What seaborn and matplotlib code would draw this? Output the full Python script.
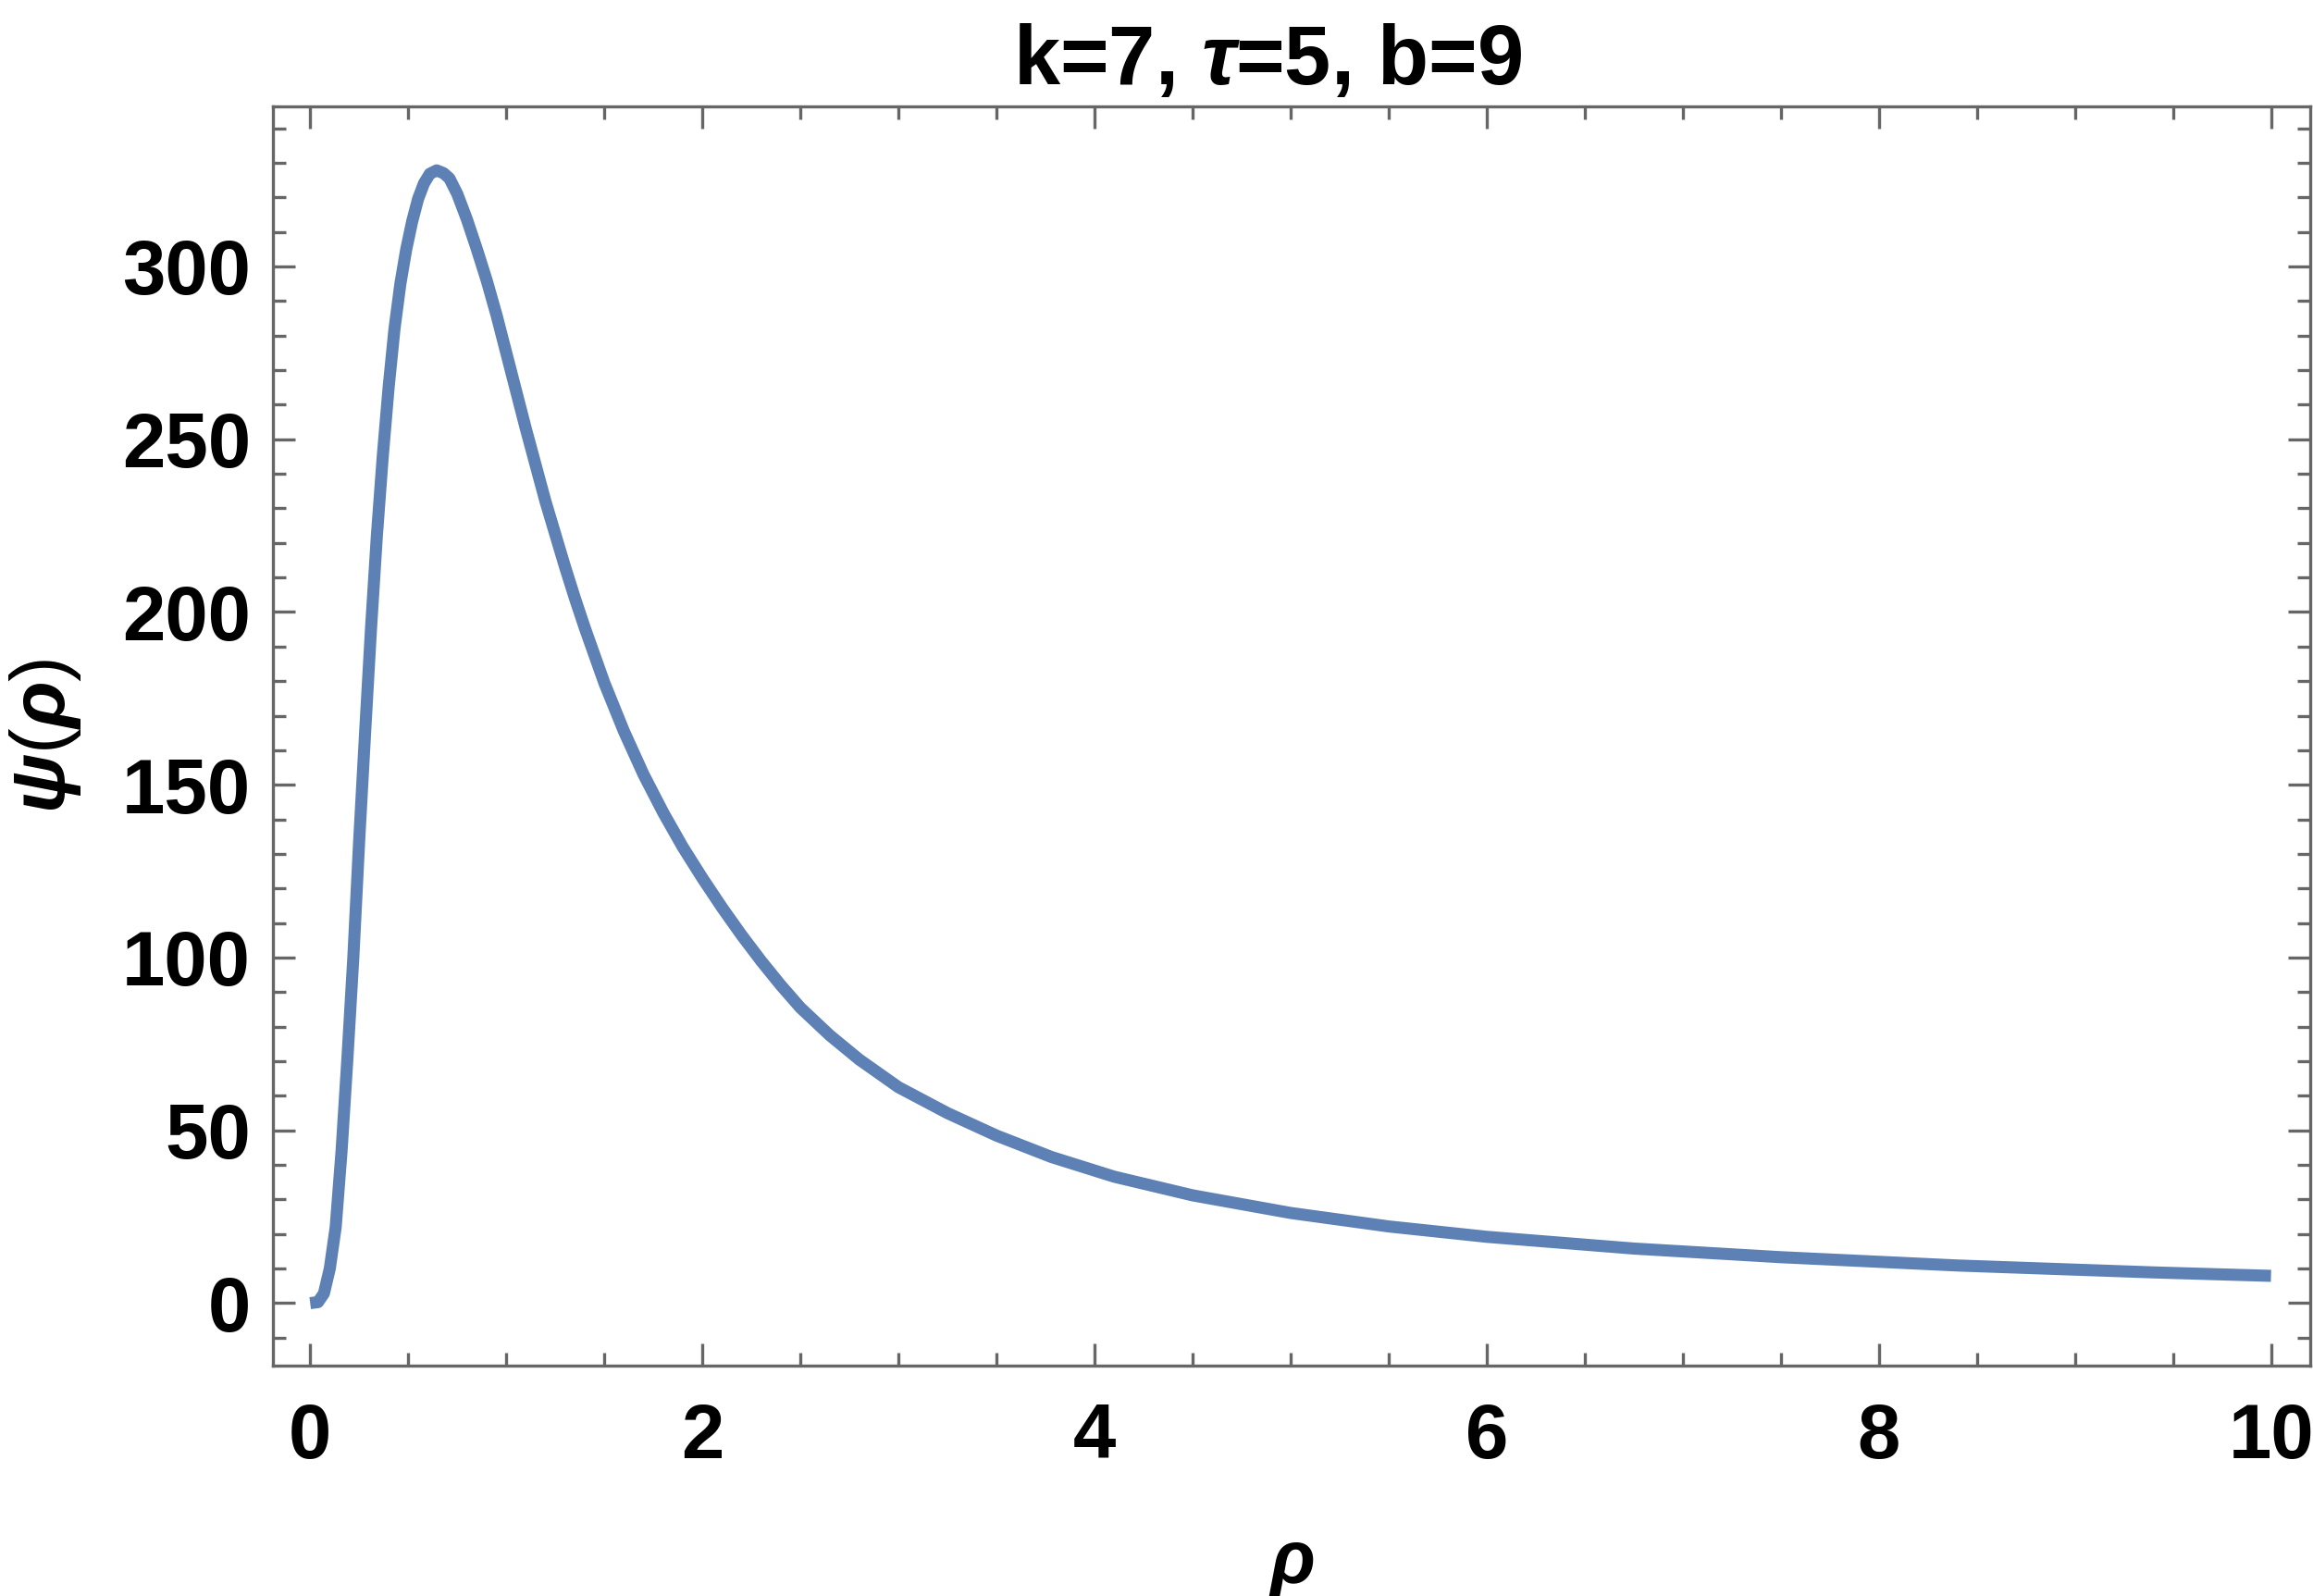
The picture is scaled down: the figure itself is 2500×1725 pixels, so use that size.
import matplotlib
matplotlib.use("Agg")
import matplotlib.pyplot as plt
import pandas as pd
import seaborn as sns
from matplotlib.ticker import MultipleLocator

# Curve values
rho = [0.0, 0.04, 0.07, 0.10, 0.13, 0.16, 0.19, 0.22, 0.25, 0.28, 0.31, 0.34,
       0.37, 0.40, 0.43, 0.46, 0.49, 0.52, 0.55, 0.58, 0.61, 0.645, 0.68, 0.71,
       0.75, 0.80, 0.85, 0.90, 0.95, 1.00, 1.05, 1.10, 1.15, 1.20, 1.25, 1.30,
       1.35, 1.40, 1.45, 1.50, 1.60, 1.70, 1.80, 1.90, 2.00, 2.10, 2.20, 2.30,
       2.40, 2.50, 2.65, 2.80, 3.00, 3.25, 3.50, 3.78, 4.10, 4.50, 5.00, 5.50,
       6.00, 6.75, 7.50, 8.40, 9.40, 10.0]
psi = [0.0, 0.3, 2.8, 10, 22, 44, 71, 100, 134, 165, 195, 222,
       245, 265, 282, 295, 305, 313, 319.5, 324, 326.8, 327.8, 327, 325.5,
       321, 313.5, 305, 296, 286, 275, 264, 253, 242.5, 232, 222.5, 213,
       204, 195.5, 187.5, 179.5, 165.5, 153, 142, 132, 123, 114.5, 106.5, 99,
       92, 85.5, 77.5, 70.5, 62.5, 55, 48.5, 42.3, 36.6, 31.2, 26.1, 22.2,
       19.2, 15.8, 13.3, 10.9, 8.9, 7.9]
x_ticks = [0, 2, 4, 6, 8, 10]
y_ticks = [0, 50, 100, 150, 200, 250, 300]
title_text = r"k=7, $\tau$=5, b=9"

df = pd.DataFrame({"rho": rho, "psi": psi})

sns.set_style("ticks")
plt.rcParams["font.family"] = ["Liberation Sans", "DejaVu Sans"]
plt.rcParams["font.weight"] = "bold"
plt.rcParams["text.color"] = "black"
plt.rcParams["axes.labelcolor"] = "black"
plt.rcParams["xtick.labelcolor"] = "black"
plt.rcParams["ytick.labelcolor"] = "black"
plt.rcParams["mathtext.fontset"] = "custom"
plt.rcParams["mathtext.it"] = "Liberation Sans:italic:bold"
plt.rcParams["mathtext.rm"] = "Liberation Sans:bold"
plt.rcParams["mathtext.bf"] = "Liberation Sans:bold"

fig = plt.figure(figsize=(12.5, 8.625), dpi=200)
ax = fig.add_axes([0.118, 0.1443, 0.8808, 0.789])

sns.lineplot(data=df, x="rho", y="psi", ax=ax, color="#5E81B5", linewidth=4.7,
             sort=False, estimator=None)
ax.lines[0].set_solid_capstyle("butt")
ax.lines[0].set_solid_joinstyle("round")

ax.set_xlim(-0.19, 10.2)
ax.set_ylim(-18.1, 346.3)
ax.set_xticks(x_ticks)
ax.set_yticks(y_ticks)
ax.xaxis.set_minor_locator(MultipleLocator(0.5))
ax.yaxis.set_minor_locator(MultipleLocator(10))

gray = "#666666"
for s in ax.spines.values():
    s.set_color(gray)
    s.set_linewidth(1.2)
    s.set_visible(True)

ax.tick_params(which="both", direction="in", top=True, right=True,
               color=gray, width=1.2, labelsize=30, labelcolor="black")
ax.tick_params(which="major", length=8.6)
ax.tick_params(which="minor", length=5)
ax.tick_params(axis="x", which="major", pad=14)
ax.tick_params(axis="y", which="major", pad=8.6)
for lab in ax.get_xticklabels() + ax.get_yticklabels():
    lab.set_fontweight("bold")

ax.set_xlabel(r"$\rho$", fontsize=29, labelpad=22)
ax.set_ylabel(r"$\psi$($\rho$)", fontsize=30, labelpad=15)
ax.set_title(title_text, fontsize=32.5, fontweight="bold", pad=8.6, x=0.488)

fig.savefig("out.png", dpi=200)
